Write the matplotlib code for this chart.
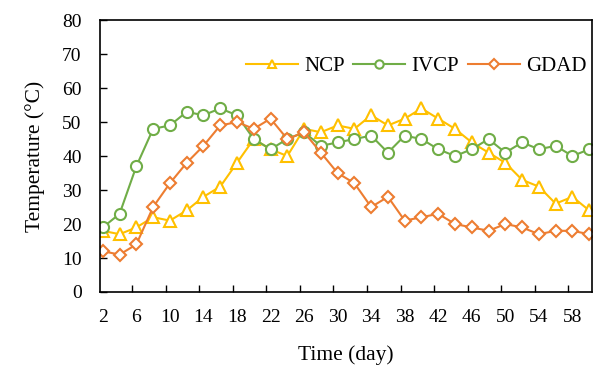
import numpy as np
import matplotlib
matplotlib.use('Agg')
import matplotlib.pyplot as plt

days = list(range(2, 61, 2))
ncp = [18, 17, 19, 22, 21, 24, 28, 31, 38, 45, 42, 40, 48, 47, 49, 48, 52, 49, 51, 54,
       51, 48, 44, 41, 38, 33, 31, 26, 28, 24]
ivcp = [19, 23, 37, 48, 49, 53, 52, 54, 52, 45, 42, 45, 47, 43, 44, 45, 46, 41, 46, 45,
        42, 40, 42, 45, 41, 44, 42, 43, 40, 42]
gdad = [12, 11, 14, 25, 32, 38, 43, 49, 50, 48, 51, 45, 47, 41, 35, 32, 25, 28, 21, 22,
        23, 20, 19, 18, 20, 19, 17, 18, 18, 17]
tick_labels = [str(d) for d in range(2, 59, 4)]

plt.rcParams['font.family'] = ['Liberation Serif', 'DejaVu Serif']

fig = plt.figure(figsize=(5.94, 3.65), dpi=100)
ax = fig.add_axes([0.168, 0.2, 0.829, 0.745])

ax.plot(days, ncp, color='#FFC000', lw=1.5, marker='^', ms=8, mfc='white', mew=1.5, label='NCP')
ax.plot(days, ivcp, color='#70AD47', lw=1.5, marker='o', ms=8, mfc='white', mew=1.5, label='IVCP')
ax.plot(days, gdad, color='#ED7D31', lw=1.5, marker='D', ms=6.5, mfc='white', mew=1.5, label='GDAD')

ax.set_xlim(1.64, 60.36)
ax.set_ylim(0, 80)
ax.set_yticks(range(0, 81, 10))
ax.set_xticks(np.arange(2, 59, 4))
ax.set_xticklabels(tick_labels)
ax.tick_params(axis='x', length=0, labelsize=14, pad=12)
ax.set_xticks(np.arange(5.5, 58, 4), minor=True)
ax.tick_params(axis='x', which='minor', direction='in', length=5, width=1)
ax.tick_params(axis='y', direction='in', length=5, width=1, labelsize=14, pad=13)

for s in ax.spines.values():
    s.set_linewidth(1.2)
    s.set_color('black')

ax.set_xlabel('Time (day)', fontsize=15.5, labelpad=14)
ax.set_ylabel('Temperature (°C)', fontsize=15.5, labelpad=12)

ax.legend(loc='center right', bbox_to_anchor=(1.005, 0.83), ncol=3, frameon=False, fontsize=15,
          handlelength=2.5, handletextpad=0.3, columnspacing=0.4, borderaxespad=0,
          markerscale=0.75)

fig.savefig('out.png', dpi=100)
